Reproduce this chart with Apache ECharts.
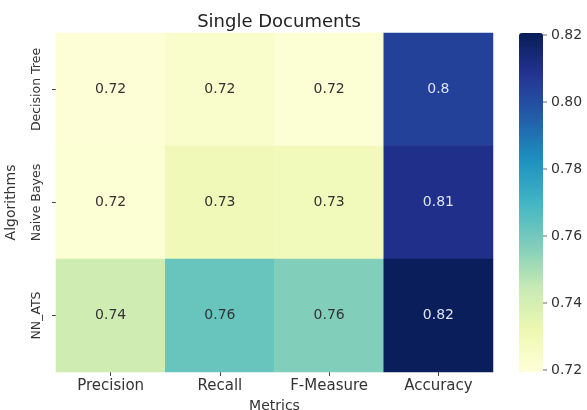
<!DOCTYPE html>
<html>
<head>
<meta charset="utf-8">
<script src="https://cdn.jsdelivr.net/npm/echarts@6/dist/echarts.min.js"></script>
<style>
  html, body { margin: 0; padding: 0; background: #fff; }
  #main { width: 587px; height: 410px; }
</style>
</head>
<body>
<div id="main"></div>
<script>
// categories
const metrics = ['Precision', 'Recall', 'F-Measure', 'Accuracy']
const algorithms = ['Decision Tree', 'Naive Bayes', 'NN_ATS']
// scores per algorithm, same order as metrics
const decisionTree = [0.7205, 0.7235, 0.7215, 0.8040]
const naiveBayes = [0.7215, 0.7300, 0.7290, 0.8100]
const nnAts = [0.7420, 0.7620, 0.7570, 0.8200]
// colour bar ticks
const barTicks = [0.72, 0.74, 0.76, 0.78, 0.80, 0.82]

const font = 'DejaVu Sans'
const rows = [decisionTree, naiveBayes, nnAts]
const cells = []
rows.forEach((vals, r) => {
  vals.forEach((v, c) => {
    const item = { value: [c, r, v] }
    // light text on dark cells, like seaborn
    if (v > 0.78) item.label = { color: '#dde3f0' }
    cells.push(item)
  })
})

// seaborn-like "%.2g" label
const fmt = v => String(parseFloat(v.toPrecision(2)))

// invisible axis line, so the ticks still get drawn
const noLine = { show: true, lineStyle: { color: 'rgba(0,0,0,0)' } }
const tick = { show: true, inside: false, length: 4, lineStyle: { color: '#444', width: 1 } }

const chart = echarts.init(document.getElementById('main'))
chart.setOption({
  animation: false,
  title: {
    text: 'Single Documents',
    left: 274, top: 8, textAlign: 'center',
    textStyle: { fontFamily: font, fontSize: 18, fontWeight: 'normal', color: '#222' }
  },
  grid: [
    { left: 56, right: 94, top: 33, bottom: 38, outerBoundsMode: 'none', containLabel: false },
    { left: 519, width: 24, top: 35, height: 335, outerBoundsMode: 'none', containLabel: false }
  ],
  xAxis: [
    {
      type: 'category', data: metrics, gridIndex: 0,
      name: 'Metrics', nameLocation: 'middle', nameGap: 24,
      nameTextStyle: { fontFamily: font, fontSize: 14, color: '#333' },
      axisLine: noLine,
      axisTick: Object.assign({ alignWithLabel: true }, tick),
      axisLabel: { fontFamily: font, fontSize: 15, color: '#333', margin: 7 },
      splitLine: { show: false }
    },
    { type: 'value', gridIndex: 1, min: 0, max: 1, show: false }
  ],
  yAxis: [
    {
      type: 'category', data: algorithms, gridIndex: 0, inverse: true,
      name: 'Algorithms', nameLocation: 'middle', nameGap: 38, nameRotate: 90,
      nameTextStyle: { fontFamily: font, fontSize: 14, color: '#333' },
      axisLine: noLine,
      axisTick: Object.assign({ alignWithLabel: true }, tick),
      axisLabel: { fontFamily: font, fontSize: 12.5, color: '#333', rotate: 90, margin: 13 },
      splitLine: { show: false }
    },
    {
      type: 'value', gridIndex: 1, position: 'right',
      min: barTicks[0], max: barTicks[barTicks.length - 1], interval: 0.02,
      axisLine: { show: false },
      axisTick: { show: false },
      axisLabel: { fontFamily: font, fontSize: 14, color: '#333', margin: 8,
        formatter: v => v.toFixed(2) },
      splitLine: { show: false }
    }
  ],
  visualMap: {
    type: 'continuous',
    seriesIndex: 0,
    min: 0.7195, max: 0.8205,
    calculable: false,
    orient: 'vertical',
    left: 519, top: 33,
    padding: 0,
    itemWidth: 24, itemHeight: 339,
    text: ['', ''],
    inRange: {
      color: ['#ffffd9', '#edf8b1', '#c7e9b4', '#7fcdbb', '#41b6c4',
        '#1d91c0', '#225ea8', '#253494', '#081d58']
    }
  },
  series: [
    {
      type: 'heatmap',
      xAxisIndex: 0, yAxisIndex: 0,
      data: cells,
      label: {
        show: true,
        fontFamily: font, fontSize: 14,
        formatter: p => fmt(p.value[2]),
        color: '#333'
      },
      itemStyle: { borderWidth: 0 }
    },
    {
      // colour bar tick marks, on the right edge of the bar
      type: 'scatter', xAxisIndex: 1, yAxisIndex: 1,
      data: barTicks.map(v => [1, v]),
      symbol: 'rect', symbolSize: [4, 1], symbolOffset: [2, 0],
      itemStyle: { color: '#444' },
      clip: false, silent: true, z: 10
    }
  ]
})
</script>
</body>
</html>
